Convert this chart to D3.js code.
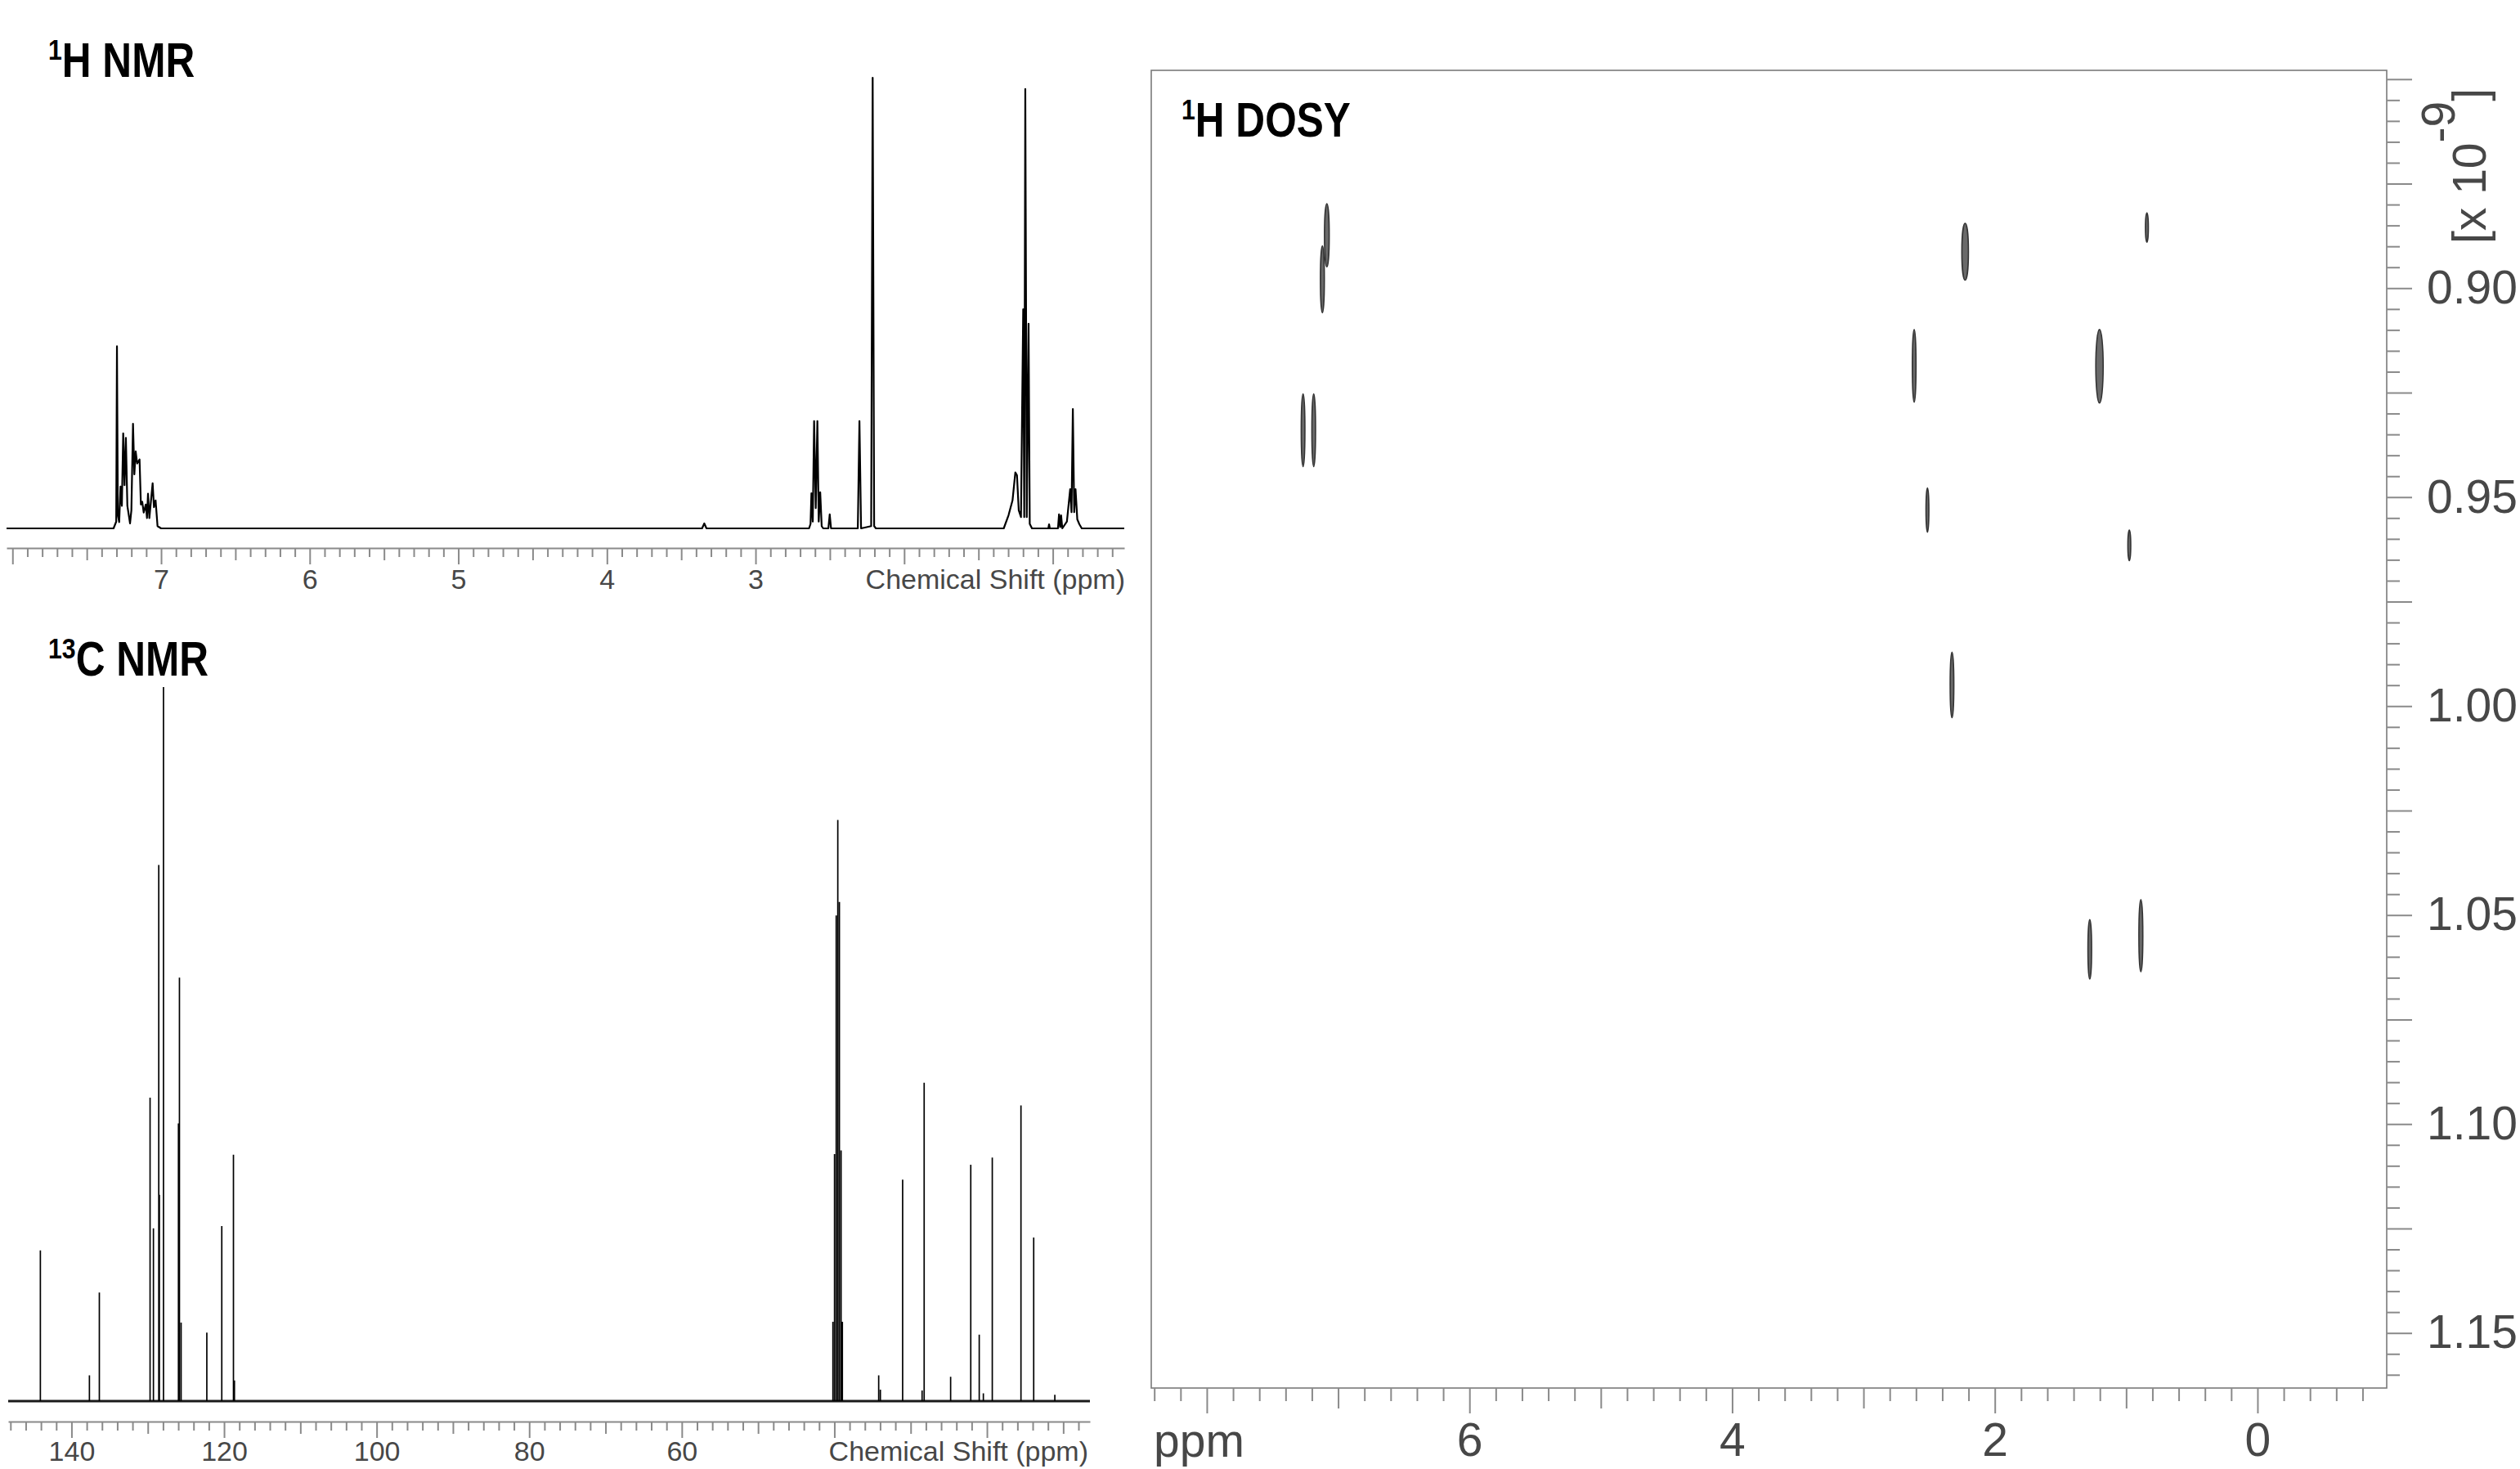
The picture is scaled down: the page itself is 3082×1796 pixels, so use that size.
<!DOCTYPE html>
<html>
<head>
<meta charset="utf-8">
<script src="https://cdn.jsdelivr.net/npm/d3@7"></script>
<style>
  html, body { margin: 0; padding: 0; background: #ffffff; }
  svg { display: block; }
  .title { font-family: 'Liberation Sans', Arial, sans-serif; font-weight: bold; fill: #000; }
  .lbl { font-family: 'Liberation Sans', Arial, sans-serif; fill: #474747; }
</style>
</head>
<body>
<svg id="chart" width="3082" height="1796"></svg>
<script>
// ---------------- DATA ----------------
// 1H NMR trace (ppm, relative intensity, tallest = 100)
const h1Ppm = [8.04, 7.32, 7.302, 7.297, 7.291, 7.282, 7.273, 7.264, 7.255, 7.246, 7.237, 7.227, 7.209, 7.200, 7.189, 7.180, 7.171, 7.161, 7.145, 7.136, 7.127, 7.117, 7.103, 7.095, 7.088, 7.079, 7.057, 7.048, 7.037, 7.024, 7.00,
  3.36, 3.345, 3.33,
  2.64, 2.630, 2.624, 2.615, 2.606, 2.595, 2.584, 2.575, 2.565, 2.555, 2.545,
  2.510, 2.501, 2.492,
  2.312, 2.301, 2.290,
  2.222, 2.212, 2.202, 2.19,
  1.33, 1.298, 1.271, 1.252, 1.241, 1.229, 1.214, 1.199, 1.192, 1.185, 1.175, 1.163, 1.155, 1.14,
  1.03, 1.025, 1.02,
  0.965, 0.958, 0.950, 0.944, 0.936,
  0.905, 0.883, 0.874, 0.865, 0.856, 0.847, 0.835, 0.821, 0.805, 0.519];
const h1Int = [0, 0, 1.5, 40.4, 3.0, 1.4, 9.3, 5.0, 21.1, 9.6, 20.1, 5.0, 1.1, 4.0, 23.2, 12.0, 17.1, 14.4, 15.3, 5.3, 5.9, 3.5, 5.3, 2.3, 7.7, 2.3, 10.0, 4.7, 6.2, 0.5, 0,
  0, 1.1, 0,
  0, 1.0, 7.8, 1.5, 23.8, 4.5, 23.8, 1.5, 8.0, 0.5, 0,
  0, 3.1, 0,
  0, 23.8, 0,
  0.5, 100, 0.5, 0,
  0, 2.9, 6.2, 12.4, 11.8, 4.0, 2.5, 48.6, 2.5, 97.5, 2.5, 45.4, 1.0, 0,
  0, 0.9, 0,
  0, 3.1, 0.3, 2.9, 0,
  1.5, 8.7, 3.6, 26.5, 3.6, 8.7, 2.0, 0.9, 0, 0];
const h1TickLabels = [7, 6, 5, 4, 3];

// 13C NMR peaks (ppm, relative intensity, tallest = 100)
const c13Ppm = [144.08, 137.65, 136.35, 129.70, 129.26, 128.56, 128.48, 127.94, 125.98, 125.85, 125.63, 122.26, 120.30, 118.77, 118.64,
  40.19, 39.98, 39.76, 39.55, 39.34, 39.12, 38.95, 34.19, 33.97, 31.05, 28.50, 28.23, 24.76, 22.12, 21.01, 20.47, 19.30, 15.54, 13.87, 11.10];
const c13Int = [21.1, 3.6, 15.2, 42.5, 24.2, 75.1, 28.9, 100, 38.9, 59.3, 11.0, 9.6, 24.5, 34.5, 2.9,
  11.1, 34.6, 68.0, 81.4, 69.9, 35.1, 11.1, 3.6, 1.6, 31.0, 1.5, 44.6, 3.4, 33.1, 9.3, 1.1, 34.1, 41.4, 22.9, 0.9];
const c13TickLabels = [140, 120, 100, 80, 60];

// 1H DOSY cross-peaks (ppm, diffusion coefficient range in 1e-9 m2/s, half linewidth in ppm)
const dosyPpm = [7.086, 7.120, 7.267, 7.186, 2.226, 0.842, 2.614, 1.203, 2.513, 0.976, 2.326, 1.277, 0.888];
const dosyDTop = [0.8798, 0.8899, 0.9253, 0.9253, 0.8845, 0.8820, 0.9099, 0.9099, 0.9478, 0.9579, 0.9871, 1.0511, 1.0463];
const dosyDBottom = [0.8949, 0.9059, 0.9427, 0.9427, 0.8981, 0.8890, 0.9273, 0.9275, 0.9584, 0.9652, 1.0028, 1.0653, 1.0636];
const dosyHalfWidth = [0.018, 0.015, 0.014, 0.014, 0.025, 0.011, 0.014, 0.028, 0.011, 0.011, 0.014, 0.014, 0.015];
const dosyXTickLabels = [6, 4, 2, 0];
const dosyYTickLabels = [0.90, 0.95, 1.00, 1.05, 1.10, 1.15];

// ---------------- DRAWING ----------------
const svg = d3.select('#chart');
const AXIS_COLOR = '#8a8a8a';

function tickLayer(parent, axisFn, values, len, keepDomain) {
  const g = parent.append('g').call(axisFn.tickValues(values).tickSize(len).tickSizeOuter(0).tickFormat(''));
  if (keepDomain) g.select('.domain').attr('stroke', AXIS_COLOR).attr('stroke-width', 2);
  else g.select('.domain').remove();
  g.selectAll('line').attr('stroke', AXIS_COLOR).attr('stroke-width', 2);
  return g;
}
function labelLayer(parent, axisFn, values, pad, size, fmt) {
  const g = parent.append('g').call(axisFn.tickValues(values).tickSize(0).tickPadding(pad).tickSizeOuter(0).tickFormat(fmt));
  g.select('.domain').remove();
  g.selectAll('text').attr('class', 'lbl').style('font-size', size + 'px').attr('fill', '#474747');
  return g;
}
function title(x, y, sup, main) {
  const t = svg.append('text').attr('class', 'title')
    .attr('transform', `translate(${x},${y}) scale(0.84,1)`).style('font-size', '59px');
  t.append('tspan').text(sup).style('font-size', '36px').attr('dy', -21);
  t.append('tspan').text(main).attr('dy', 21);
}

// ---- 1H NMR ----
const x1 = d3.scaleLinear().domain([8.04, 0.519]).range([8, 1375]);
const y1 = d3.scaleLinear().domain([0, 100]).range([646, 95]);
const h1Data = h1Ppm.map((p, i) => [p, h1Int[i]]);
svg.append('path').datum(h1Data)
  .attr('d', d3.line().x(d => x1(d[0])).y(d => y1(d[1])))
  .attr('fill', 'none').attr('stroke', '#000').attr('stroke-width', 2.2).attr('stroke-linejoin', 'round');

const ax1 = svg.append('g').attr('transform', 'translate(0,670)');
const inDom1 = v => v <= 8.04 && v >= 0.519;
tickLayer(ax1, d3.axisBottom(x1), d3.range(5, 81).map(i => i / 10).filter(v => inDom1(v) && (Math.round(v * 10) % 5 !== 0)), 11, true);
tickLayer(ax1, d3.axisBottom(x1), d3.range(1, 17).map(i => i / 2).filter(v => inDom1(v) && !Number.isInteger(v)), 15, false);
tickLayer(ax1, d3.axisBottom(x1), d3.range(1, 9).filter(inDom1), 20, false);
labelLayer(ax1, d3.axisBottom(x1), h1TickLabels, 26, 34, d3.format('d'));
svg.append('text').attr('class', 'lbl').attr('x', 1376).attr('y', 720).attr('text-anchor', 'end')
  .style('font-size', '34px').text('Chemical Shift (ppm)');
title(59, 94, '1', 'H NMR');

// ---- 13C NMR ----
const x13 = d3.scaleLinear().domain([148.3, 6.5]).range([10, 1333]);
const y13 = d3.scaleLinear().domain([0, 100]).range([1713, 840]);
svg.append('line').attr('x1', x13(148.3)).attr('x2', x13(6.5)).attr('y1', y13(0)).attr('y2', y13(0))
  .attr('stroke', '#1a1a1a').attr('stroke-width', 3.2);
const stickPath = c13Ppm.map((p, i) => `M${x13(p)},${y13(0)}V${y13(c13Int[i])}`).join('');
svg.append('path').attr('d', stickPath).attr('stroke', '#000').attr('stroke-width', 1.7).attr('fill', 'none');

const ax13 = svg.append('g').attr('transform', 'translate(0,1738)');
const inDom13 = v => v <= 148.3 && v >= 6.5;
tickLayer(ax13, d3.axisBottom(x13), d3.range(4, 75).map(i => i * 2).filter(v => inDom13(v) && v % 10 !== 0), 11, true);
tickLayer(ax13, d3.axisBottom(x13), d3.range(1, 15).map(i => i * 10).filter(v => inDom13(v) && v % 20 !== 0), 15, false);
tickLayer(ax13, d3.axisBottom(x13), d3.range(1, 8).map(i => i * 20).filter(inDom13), 20, false);
labelLayer(ax13, d3.axisBottom(x13), c13TickLabels, 24, 34, d3.format('d'));
svg.append('text').attr('class', 'lbl').attr('x', 1331).attr('y', 1786).attr('text-anchor', 'end')
  .style('font-size', '34px').text('Chemical Shift (ppm)');
title(59, 826, '13', 'C NMR');

// ---- 1H DOSY ----
const L = 1408, R = 2919, T = 86, B = 1697;
const xD = d3.scaleLinear().domain([8.423, -0.984]).range([L, R]);
const yD = d3.scaleLinear().domain([0.84789, 1.16317]).range([T, B]);

svg.append('rect').attr('x', L).attr('y', T).attr('width', R - L).attr('height', B - T)
  .attr('fill', 'none').attr('stroke', '#7a7a7a').attr('stroke-width', 1.6);

svg.append('g').selectAll('ellipse').data(dosyPpm).join('ellipse')
  .attr('cx', d => xD(d))
  .attr('cy', (d, i) => yD((dosyDTop[i] + dosyDBottom[i]) / 2))
  .attr('rx', (d, i) => Math.abs(xD(d + dosyHalfWidth[i]) - xD(d)))
  .attr('ry', (d, i) => Math.abs(yD(dosyDBottom[i]) - yD(dosyDTop[i])) / 2)
  .attr('fill', '#6a6a6a').attr('stroke', '#333').attr('stroke-width', 1.6);

const axDx = svg.append('g').attr('transform', `translate(0,${B})`);
const inDomX = v => v <= 8.423 && v >= -0.984;
const xAll = d3.range(-5, 43).map(i => i / 5);
tickLayer(axDx, d3.axisBottom(xD), xAll.filter(v => inDomX(v) && !Number.isInteger(Math.round(v * 1000) / 1000)), 16, false);
tickLayer(axDx, d3.axisBottom(xD), d3.range(-1, 9).filter(v => inDomX(v) && Math.abs(v % 2) === 1), 25, false);
tickLayer(axDx, d3.axisBottom(xD), d3.range(-1, 9).filter(v => inDomX(v) && v % 2 === 0), 31, false);
labelLayer(axDx, d3.axisBottom(xD), dosyXTickLabels, 43, 57, d3.format('d'));
svg.append('text').attr('class', 'lbl').attr('x', 1411).attr('y', 1781).style('font-size', '57px').text('ppm');

const axDy = svg.append('g').attr('transform', `translate(${R},0)`);
const yAll = d3.range(170, 233).map(i => i / 200);
tickLayer(axDy, d3.axisRight(yD), yAll.filter(v => v >= 0.84789 && v <= 1.16317 && Math.round(v * 1000) % 25 !== 0), 16, false);
tickLayer(axDy, d3.axisRight(yD), yAll.filter(v => v >= 0.84789 && v <= 1.16317 && Math.round(v * 1000) % 25 === 0), 31, false);
labelLayer(axDy, d3.axisRight(yD), dosyYTickLabels, 49, 57, d3.format('.2f'));

const unit = svg.append('text').attr('class', 'lbl').attr('transform', 'translate(3040,298) rotate(-90)')
  .style('font-size', '57px');
unit.append('tspan').text('[x 10');
unit.append('tspan').text('-9').attr('dy', -38);
unit.append('tspan').text(']').attr('dy', 38);

title(1445, 167, '1', 'H DOSY');
</script>
</body>
</html>
